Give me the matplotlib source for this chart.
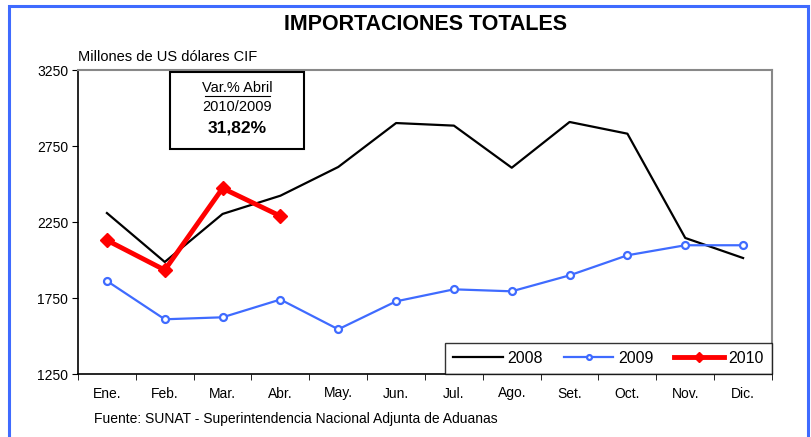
import matplotlib
matplotlib.use("Agg")
import matplotlib.pyplot as plt
from matplotlib.patches import Rectangle
from matplotlib.lines import Line2D

plt.rcParams['font.family'] = ['Liberation Sans', 'DejaVu Sans']

months = ["Ene.", "Feb.", "Mar.", "Abr.", "May.", "Jun.", "Jul.", "Ago.", "Set.", "Oct.", "Nov.", "Dic."]
imp_2008 = [2309, 1987, 2303, 2423, 2612, 2901, 2884, 2607, 2908, 2831, 2145, 2013]
imp_2009 = [1862, 1610, 1623, 1740, 1544, 1728, 1807, 1794, 1899, 2031, 2097, 2097]
imp_2010 = [2130, 1934, 2472, 2289]
yticks = [1250, 1750, 2250, 2750, 3250]

W, H = 812, 437
fig = plt.figure(figsize=(W / 100, H / 100), dpi=100)
fig.patch.set_facecolor("white")

# outer blue frame
fig.add_artist(Rectangle((9 / W, -0.05), (808 - 9) / W, (H - 6) / H + 0.05,
                         transform=fig.transFigure, fill=False,
                         edgecolor="#3F6BFF", linewidth=2.2, clip_on=False))

ax = fig.add_axes([78 / W, 1 - 374 / H, (772 - 78) / W, (374 - 70) / H])
x = list(range(len(months)))

ax.plot(x, imp_2008, color="black", linewidth=1.6, label="2008")
ax.plot(x, imp_2009, color="#3F6BFF", linewidth=1.6, marker="o", markersize=5,
        markerfacecolor="white", markeredgecolor="#3F6BFF", markeredgewidth=1.6, label="2009")
ax.plot(x[:len(imp_2010)], imp_2010, color="#FF0000", linewidth=3.5, marker="D", markersize=7.5,
        markerfacecolor="#FF0000", markeredgecolor="#FF0000", label="2010")

ax.set_xlim(-0.5, 11.5)
ax.set_ylim(1250, 3250)
ax.set_yticks(yticks)
ax.set_yticklabels([str(v) for v in yticks], fontsize=10)
ax.set_xticks(x)
ax.set_xticklabels(months, fontsize=10)
ax.set_xticks([i - 0.5 for i in range(13)], minor=True)
ax.tick_params(axis="x", which="major", length=0, pad=9)
ax.tick_params(axis="x", which="minor", length=4, direction="out", color="black")
ax.tick_params(axis="y", which="major", length=4, direction="out", pad=3)

for s in ["top", "right"]:
    ax.spines[s].set_color("#888888")
    ax.spines[s].set_linewidth(1.5)
for s in ["left", "bottom"]:
    ax.spines[s].set_color("black")
    ax.spines[s].set_linewidth(1.2)

leg = ax.legend(loc="lower right", bbox_to_anchor=(1.0, 0.0), ncol=3, fontsize=11.5,
                frameon=True, fancybox=False, edgecolor="black", handlelength=3.1,
                columnspacing=1.3, handletextpad=0.3, borderpad=0.5,
                borderaxespad=0, markerscale=0.7)
leg.get_frame().set_linewidth(1.0)

# annotation box
ax.add_artist(Rectangle((170 / W, 1 - 149 / H), (304 - 170) / W, (149 - 72) / H,
                        transform=fig.transFigure, fill=True, facecolor="white",
                        edgecolor="black", linewidth=1.5, zorder=5))
fig.text(237 / W, 1 - 88 / H, "Var.% Abril", ha="center", va="center", fontsize=10.5)
fig.add_artist(Line2D([205 / W, 270 / W], [1 - 96 / H, 1 - 96 / H], color="black",
                      linewidth=0.8, transform=fig.transFigure))
fig.text(237 / W, 1 - 107 / H, "2010/2009", ha="center", va="center", fontsize=10.5)
fig.text(237 / W, 1 - 128 / H, "31,82%", ha="center", va="center", fontsize=12.5,
         fontweight="bold")

fig.text(425 / W, 1 - 24 / H, "IMPORTACIONES TOTALES", ha="center", va="center",
         fontsize=15.5, fontweight="bold")
fig.text(78 / W, 1 - 57 / H, "Millones de US dólares CIF", ha="left", va="center",
         fontsize=10.5)
fig.text(94 / W, 1 - 419 / H, "Fuente: SUNAT - Superintendencia Nacional Adjunta de Aduanas",
         ha="left", va="center", fontsize=10)

fig.savefig("out.png", dpi=100)
